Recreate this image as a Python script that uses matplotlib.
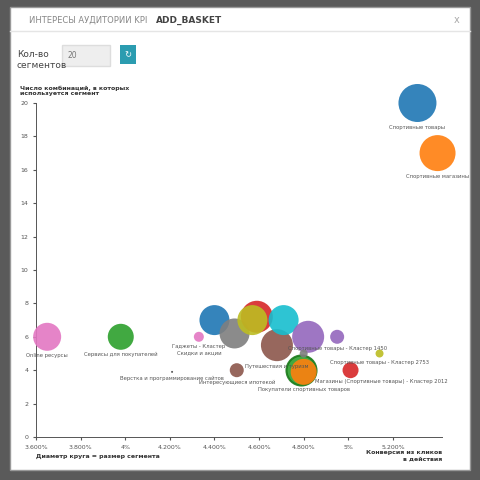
import matplotlib.pyplot as plt
from matplotlib.patches import Rectangle
from matplotlib.ticker import FixedLocator

# Данные сегментов: конверсия (%), число комбинаций, размер сегмента
conv = [5.31, 5.40, 3.65, 3.98, 4.21, 4.33, 4.40, 4.49, 4.50, 4.59, 4.57, 4.68,
        4.71, 4.82, 4.79, 4.80, 4.80, 4.95, 5.01, 5.14]
combos = [20, 17, 6, 6, 3.9, 6, 7, 6.2, 4, 7.2, 7, 5.5, 7, 6, 4, 3.9, 5, 6, 4, 5]
seg_size = [19, 18, 14, 13, 1, 5, 15, 15, 7, 16, 15, 16, 15, 16, 15, 13, 4, 7, 8, 4]
colors = ['#1f77b4', '#ff7f0e', '#e377c2', '#2ca02c', '#444444', '#e377c2', '#1f77b4',
          '#7f7f7f', '#8c564b', '#d62728', '#bcbd22', '#8c564b', '#17becf', '#9467bd',
          '#2ca02c', '#ff7f0e', '#7f7f7f', '#9467bd', '#d62728', '#bcbd22']
labels = ['Спортивные товары', 'Спортивные магазины', 'Online ресурсы', 'Сервисы для покупателей',
          'Верстка и программирование сайтов', 'Гаджеты - Кластер\nСкидки и акции', '', '',
          'Интересующиеся ипотекой', '', '', 'Путешествия и туризм', '', '',
          'Магазины (Спортивные товары) - Кластер 2012', 'Покупатели спортивных товаров', '',
          'Спортивные товары - Кластер 1450', '', 'Спортивные товары - Кластер 2753']
xticks = [3.6, 3.8, 4.0, 4.2, 4.4, 4.6, 4.8, 5.0, 5.2]
xtick_labels = ['3.600%', '3.800%', '4%', '4.200%', '4.400%', '4.600%', '4.800%', '5%', '5.200%']

fig = plt.figure(figsize=(4.8, 4.8), dpi=100)
fig.patch.set_facecolor('#5a5a5a')
fig.patches.append(Rectangle((0.02, 0.02), 0.96, 0.965, transform=fig.transFigure,
                             facecolor='white', edgecolor='#999999', zorder=-5))
fig.add_artist(plt.Line2D([0.02, 0.98], [0.935, 0.935], color='#e5e5e5', lw=1))
fig.text(0.06, 0.958, 'ИНТЕРЕСЫ АУДИТОРИИ KPI ', fontsize=6, color='#888888', va='center')
fig.text(0.325, 0.958, 'ADD_BASKET', fontsize=6.5, color='#444444', weight='bold', va='center')
fig.text(0.945, 0.958, 'x', fontsize=7, color='#aaaaaa', va='center')
fig.text(0.035, 0.875, 'Кол-во\nсегментов', fontsize=6.5, color='#444444', va='center', linespacing=1.4)
fig.patches.append(Rectangle((0.13, 0.862), 0.1, 0.045, transform=fig.transFigure,
                             facecolor='#eeeeee', edgecolor='#dddddd'))
fig.text(0.14, 0.884, '20', fontsize=5.5, color='#777777', va='center')
fig.patches.append(Rectangle((0.25, 0.866), 0.034, 0.04, transform=fig.transFigure,
                             facecolor='#2b9cb0', edgecolor='none'))
fig.text(0.267, 0.886, '↻', fontsize=6, color='white', ha='center', va='center')

ax = fig.add_axes([36 / 480, 43 / 480, 406 / 480, 334 / 480])
ax.set_zorder(5)
ax.patch.set_alpha(0)
s = [(2 * r * 0.72) ** 2 for r in seg_size]
for i, (x, y, sz, c, lab, r) in enumerate(zip(conv, combos, s, colors, labels, seg_size)):
    ec = '#1a7a1a' if (c == '#2ca02c' and r == 15) else 'none'
    ax.scatter(x, y, s=sz, color=c, alpha=0.9, edgecolor=ec, linewidth=1.5, zorder=3, clip_on=False)
    if not lab:
        continue
    if i == 14:
        # подпись справа от пузыря, как в оригинале
        ax.text(x + 0.06, y - 0.7, lab, fontsize=3.8, color='#555555', ha='left', va='center',
                zorder=4, clip_on=False)
    else:
        ax.text(x, y - r / 16.7 - 0.15, lab, fontsize=3.8, color='#555555', ha='center', va='top',
                zorder=4, clip_on=False)
ax.set_xlim(3.6, 5.42)
ax.set_ylim(0, 20)
ax.xaxis.set_major_locator(FixedLocator(xticks))
ax.set_xticklabels(xtick_labels)
ax.set_yticks(range(0, 21, 2))
ax.tick_params(labelsize=4.5, colors='#555555', length=2)
for sp in ['top', 'right']:
    ax.spines[sp].set_visible(False)
for sp in ['left', 'bottom']:
    ax.spines[sp].set_color('#555555')
    ax.spines[sp].set_linewidth(0.7)
ax.text(0.0, -0.05, 'Диаметр круга = размер сегмента', transform=ax.transAxes, fontsize=4.5,
        weight='bold', color='#333333', va='top')
ax.text(1.0, -0.04, 'Конверсия из кликов\nв действия', transform=ax.transAxes, fontsize=4.5,
        weight='bold', color='#333333', va='top', ha='right')
ax.text(-0.04, 1.02, 'Число комбинаций, в которых\nиспользуется сегмент', transform=ax.transAxes,
        fontsize=4.5, weight='bold', color='#333333', va='bottom')

fig.savefig('out.png', dpi=100, facecolor=fig.get_facecolor())
